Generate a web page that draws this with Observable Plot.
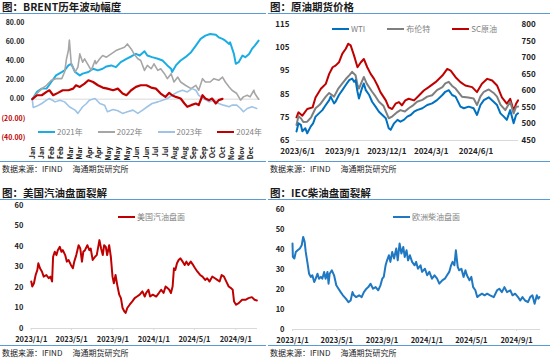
<!DOCTYPE html>
<html><head><meta charset="utf-8">
<script src="https://cdn.jsdelivr.net/npm/d3@7"></script>
<script src="https://cdn.jsdelivr.net/npm/@observablehq/plot@0.6"></script>
<style>
body{margin:0;background:#fff;font-family:"Noto Sans CJK SC","Noto Sans",sans-serif;}
#root{position:relative;width:550px;height:361px;overflow:hidden;background:#fff;}
.panel{position:absolute;}
.title{font-weight:bold;font-size:10.5px;color:#1a1a1a;height:13px;line-height:13px;padding-left:2px;border-bottom:1.2px solid #5B9BD5;white-space:nowrap;}
.src{font-size:8px;color:#1a1a1a;border-top:1.2px solid #5B9BD5;height:13px;line-height:14px;padding-left:2px;white-space:nowrap;}
.src span{margin-right:10px;}
.plot svg{display:block;}
.lg{position:absolute;font-size:8px;color:#7f7f7f;white-space:nowrap;line-height:10px;}
.lg i{display:inline-block;width:17px;height:2.5px;vertical-align:middle;margin-right:2px;position:relative;top:-1px;}
</style></head>
<body><div id="root"></div>
<script>
// ---------- Panel 1: BRENT yearly change (x = trading day index) ----------
const monthLabels = ["Jan","Jan","Feb","Feb","Mar","Mar","Apr","Apr","May","May","May","Jun","Jun","Jul","Jul","Aug","Aug","Sep","Sep","Oct","Oct","Nov","Nov","Dec"];
const yearNames = ["2021年","2022年","2023年","2024年"];
const brent2021 = [[0,0],[5,7.6],[10,11],[15,11],[20,17.9],[25,24.8],[31,28.3],[34,30],[38,35.2],[41,36.9],[45,28.3],[50,24.8],[53,26.6],[59,28.3],[64,31.7],[69,30],[74,31.7],[78,34.1],[83,35.2],[88,33.4],[93,38.6],[99,42.1],[104,44.5],[109,47.2],[113,45.5],[118,50],[121,45.5],[126,43.8],[132,42.1],[137,40.3],[142,35.2],[146,31.7],[147,28.3],[151,35.2],[156,40.3],[161,43.8],[167,49],[172,55.9],[177,62.8],[182,66.2],[187,67.9],[193,67.2],[196,64.5],[200,62.8],[203,61],[207,57.6],[208,59.3],[212,47.2],[214,36.9],[217,38.6],[221,45.5],[224,43.8],[228,47.2],[231,52.4],[234,55.9],[238,61]];
const brent2022 = [[0,0],[5,5.9],[10,11],[15,14.5],[20,19.7],[25,21.4],[31,21.4],[34,28.3],[36,42.1],[38,50.7],[39,61.7],[41,36.9],[45,28.3],[48,33.4],[50,47.2],[53,38.6],[55,42.1],[59,35.2],[62,30],[66,40.3],[67,36.9],[71,42.1],[74,45.5],[78,43.8],[83,47.2],[88,50.7],[92,52.4],[97,54.1],[100,57.6],[104,52.4],[107,47.2],[111,42.1],[114,40.3],[118,30],[121,35.2],[125,31.7],[128,36.9],[132,30],[135,31.7],[139,26.6],[142,21.4],[146,26.6],[149,17.9],[153,23.1],[156,17.9],[161,14.5],[167,11],[172,14.5],[175,9.3],[179,21.4],[182,17.9],[187,17.9],[191,21.4],[196,19.7],[200,23.1],[203,17.9],[207,12.8],[210,9.3],[215,5.9],[219,-1],[222,2.4],[226,4.1],[229,2.4],[233,9.3],[234,5.9],[238,0]];
const brent2023 = [[0,0],[1,-8.6],[5,-7.2],[10,-4.5],[15,-1],[18,0.7],[24,-2.8],[29,-1],[34,-2.8],[39,-7.9],[45,-11.4],[48,-14.8],[53,-7.9],[57,-4.5],[60,-1],[66,0.7],[71,-4.5],[76,-6.2],[79,-13.1],[85,-10.7],[90,-12.1],[95,-14.8],[100,-13.1],[106,-11.4],[111,-14.8],[116,-11.4],[121,-7.9],[126,-4.5],[132,-2.8],[137,-1],[142,0.7],[147,4.1],[153,7.6],[158,9.3],[163,7.6],[168,11],[172,9.3],[175,4.1],[180,0.7],[186,-2.8],[191,-1],[196,-4.5],[201,-6.2],[207,-7.9],[210,-6.2],[215,-6.2],[219,-9.7],[222,-13.1],[226,-9.7],[231,-7.9],[236,-9.7]];
const brent2024 = [[0,0],[5,4.1],[10,4.1],[15,7.6],[18,9.3],[22,4.1],[27,6.6],[32,9.3],[38,9.3],[43,11],[46,14.5],[50,12.8],[55,16.2],[59,19.7],[64,17.9],[69,14.5],[74,12.1],[79,11],[85,9.3],[90,11],[95,5.9],[99,4.1],[104,9.3],[109,12.8],[114,14.5],[120,14.5],[125,12.1],[130,11],[135,5.9],[140,2.4],[144,6.6],[147,4.1],[151,2.4],[156,0.7],[160,-4.5],[163,-7.9],[167,-6.2],[172,-4.5],[175,-6.2],[179,4.1],[182,0.7],[186,-1],[189,0.7],[193,-4.5],[196,-1],[200,0.3]];
const yearColors = ["#1AADE4","#A6A6A6","#9DC3E6","#C00000"];
const yearWidths = [2,1.6,1.6,2.2];

// ---------- Panel 2: crude futures (day offset from 2023-06-01) ----------
const crudeStart = "2023-06-01";
const crudeTickLabels = ["2023/6/1","2023/9/1","2023/12/1","2024/3/1","2024/6/1"];
const crudeNames = ["WTI","布伦特","SC原油"];
const wti = [[-2,68.9],[2,72.4],[7,71.7],[10,69],[16,70.3],[20,68.1],[27,71],[32,72.4],[37,75.3],[44,76.7],[51,78.1],[58,80.3],[65,82.4],[68,83.9],[75,81],[78,81.7],[85,84.6],[92,86.7],[99,88.9],[106,91],[112,91.7],[116,90.3],[119,91],[123,86],[126,83.1],[132,87.4],[136,89.6],[140,86.7],[147,84.6],[153,81.7],[160,79.6],[167,77.4],[174,76],[181,74.6],[187,70.3],[191,69.6],[198,72.4],[205,73.9],[211,73.1],[218,73.9],[225,75.3],[232,76],[239,77.4],[245,78.1],[256,78.9],[266,80.3],[276,81],[286,82.4],[297,84.6],[303,86],[310,86.7],[317,84.6],[324,83.9],[334,79.6],[341,78.9],[351,79.6],[361,78.9],[368,76],[375,80.3],[382,82.4],[392,83.6],[402,81.7],[409,80.3],[416,76.7],[423,75.3],[429,73.9],[436,78.1],[443,72.4],[448,76],[452,76.7]];
const brent = [[-2,71.7],[2,75.5],[7,74.6],[12,73],[20,73.1],[28,75],[37,78.9],[46,80.5],[58,83.9],[65,85.5],[75,83.9],[84,87.5],[92,89.6],[99,91.5],[106,93.1],[112,94.6],[119,93.1],[123,89],[126,87.4],[136,92.4],[142,89.5],[153,86],[160,84],[167,81.7],[176,80],[187,74.6],[194,75.3],[203,77],[211,78.1],[220,77.5],[228,78.9],[236,80],[245,81.7],[256,82.5],[266,83.9],[276,84.5],[286,86.7],[297,88],[303,89.6],[310,90.3],[317,88.5],[324,87.4],[337,83.9],[350,83.5],[361,83.1],[368,80.3],[375,84],[382,86],[392,87],[402,85.5],[409,83.9],[416,80.5],[426,78.1],[436,81.7],[443,76.7],[448,79.5],[452,79.6]];
const sc = [[-2,520],[2,535],[10,525],[20,545],[31,550],[37,580],[48,606],[58,621],[65,651],[72,671],[78,676],[85,686],[92,712],[99,727],[104,742],[109,737],[116,706],[123,671],[130,686],[136,696],[143,671],[150,651],[157,636],[164,616],[170,596],[181,571],[187,550],[194,545],[201,561],[208,566],[214,556],[221,571],[228,576],[239,571],[249,586],[259,601],[269,611],[283,626],[297,646],[307,666],[314,661],[324,641],[334,626],[344,616],[358,611],[368,596],[378,621],[389,636],[399,631],[409,616],[419,580],[429,561],[436,576],[443,540],[448,561],[452,571]];
const leftTicks = [65,75,85,95,105,115];
const rightTicks = [450,500,550,600,650,700,750,800];

// ---------- Panels 3 & 4: cracks (day offset from 2023-01-01) ----------
const crackStart = "2023-01-01";
const crackTickLabels = ["2023/1/1","2023/5/1","2023/9/1","2024/1/1","2024/5/1","2024/9/1"];
const gasoline = [[0,22.9],[3,20.5],[8,22.1],[13,26.1],[18,28.5],[21,31.8],[26,29.4],[32,27.7],[37,25.3],[45,26.1],[52,24.5],[57,25.3],[62,22.9],[65,35],[70,37.4],[75,35.8],[79,38.2],[85,39.8],[90,37.4],[94,38.2],[101,35.8],[106,32.6],[111,33.4],[118,31],[124,29.4],[128,32.6],[134,35.8],[141,40.6],[146,39],[151,32.6],[155,37.4],[160,38.2],[167,40.6],[173,38.2],[177,39],[183,33.4],[190,35],[195,35.8],[203,43.1],[208,39],[213,35.8],[217,40.6],[222,39.8],[226,35.8],[232,40.6],[237,35],[242,25.3],[246,22.1],[251,26.1],[256,21.3],[262,16.5],[267,14.8],[272,10],[277,8.4],[281,7.6],[286,10],[293,11.6],[301,13.2],[308,14.8],[315,15.6],[323,16.5],[331,18.1],[338,15.6],[342,17.3],[349,18.9],[354,15.6],[362,16.5],[372,15.6],[380,17.3],[387,18.9],[394,17.3],[400,20.5],[406,19.7],[411,18.9],[416,17.3],[421,20.5],[425,29.4],[429,28.5],[434,31.8],[439,33.4],[444,34.2],[451,32.6],[457,31],[462,32.6],[468,31],[475,32.6],[482,31],[488,29.4],[495,27.7],[503,26.1],[510,25.3],[518,23.7],[524,24.5],[531,22.9],[539,25.3],[547,24.5],[554,23.7],[561,22.9],[567,26.1],[574,25.3],[581,22.9],[588,20.5],[595,19.7],[600,18.9],[604,13.2],[610,11.6],[618,12.4],[628,14],[638,14],[647,14.8],[657,15.3],[665,14],[672,13.7]];
const diesel = [[0,43],[1,36.3],[5,35.5],[9,38.8],[14,39.6],[20,40.5],[25,42.1],[29,46.3],[33,43.8],[36,38.8],[41,32.9],[45,27.9],[50,26.3],[54,27.1],[59,23.7],[63,25.4],[68,27.9],[72,25.4],[77,26.3],[81,25.4],[86,28.8],[90,25.4],[95,28.8],[98,22.9],[101,27.9],[107,29.6],[113,27.1],[119,22.1],[125,20.4],[131,18.7],[137,17.1],[145,15.4],[152,13.7],[158,14.5],[163,18.7],[167,17.1],[173,16.2],[181,17.1],[188,16.2],[194,18.7],[201,20.4],[206,21.2],[212,22.9],[219,20.4],[226,21.2],[233,19.6],[239,22.1],[244,25.4],[248,26.3],[253,32.1],[257,34.6],[262,37.1],[266,33.8],[271,38.8],[276,35.5],[282,40.5],[286,34.6],[291,43],[296,38],[301,41.3],[305,36.3],[310,39.6],[314,34.6],[319,37.1],[325,33.8],[332,32.1],[336,33.8],[341,30.4],[348,32.1],[352,28.8],[360,30.4],[366,27.1],[372,28.8],[379,25.4],[386,27.1],[393,25.4],[399,22.9],[407,24.6],[414,25.4],[420,27.1],[426,28.8],[431,32.1],[435,33.8],[440,32.1],[444,39.6],[449,31.3],[453,29.6],[459,30.4],[465,26.3],[470,29.6],[474,27.1],[481,24.6],[486,26.3],[491,21.2],[497,19.6],[502,16.2],[508,17.1],[515,17.9],[522,17.1],[529,17.9],[537,17.1],[547,16.2],[556,19.6],[562,20.4],[569,18.7],[576,21.2],[583,18.7],[592,19.6],[598,17.1],[605,17.9],[613,16.2],[619,14.5],[625,16.2],[632,14.5],[640,13.7],[646,16.2],[652,17.1],[658,12.9],[664,17.1],[668,15.4],[671,16.2]];
const crackTicks = [0,10,20,30,40,50,60];

// ---------- helpers ----------
const FONT = '"Noto Sans CJK SC","Noto Sans",sans-serif';
const parseSlash = s => { const [y,m,d] = s.split("/").map(Number); return new Date(Date.UTC(y,m-1,d)); };
const fmtSlash = d => `${d.getUTCFullYear()}/${d.getUTCMonth()+1}/${d.getUTCDate()}`;
const dayOf = (start, off) => { const d = new Date(start + "T00:00:00Z"); d.setUTCDate(d.getUTCDate()+off); return d; };
const toRows = (arr, start) => arr.map(([o,v]) => ({date: dayOf(start,o), v}));
const root = document.getElementById("root");

function panel(left, top, width, title, chart, plotH) {
  const p = document.createElement("div");
  p.className = "panel"; p.style.left = left+"px"; p.style.top = top+"px"; p.style.width = width+"px";
  const t = document.createElement("div"); t.className = "title"; t.textContent = title; p.appendChild(t);
  const c = document.createElement("div"); c.className = "plot"; c.style.height = plotH+"px"; c.appendChild(chart); p.appendChild(c);
  const s = document.createElement("div"); s.className = "src"; s.innerHTML = "<span>数据来源：IFIND</span><span>海通期货研究所</span>"; p.appendChild(s);
  root.appendChild(p);
}
function legend(items, left, top, gap) {
  const l = document.createElement("div"); l.className = "lg"; l.style.left = left+"px"; l.style.top = top+"px";
  l.innerHTML = items.map(([name,color]) => `<span style="margin-right:${gap}px"><i style="background:${color}"></i>${name}</span>`).join("");
  root.appendChild(l);
}

// ---------- Panel 1 ----------
const fmtAcc = d => d < 0 ? `(${Math.abs(d).toFixed(2)})` : d.toFixed(2);
const p1 = Plot.plot({
  width: 268, height: 147, marginLeft: 32, marginRight: 6, marginTop: 8, marginBottom: 23,
  style: {fontFamily: FONT, fontSize: "7px", fontWeight: "bold", color: "#222", background: "#fff"},
  x: {domain: [0, 240], label: null},
  y: {domain: [-40, 80], label: null},
  marks: [
    Plot.ruleY([0], {stroke: "#D9D9D9", strokeWidth: 1}),
    ...[brent2021, brent2022, brent2023, brent2024].map((s, i) =>
      Plot.line(s, {x: d => d[0], y: d => d[1], stroke: yearColors[i], strokeWidth: yearWidths[i]})),
    Plot.axisY([80,60,40,20,0], {tickSize: 0, tickPadding: 8, tickFormat: fmtAcc, fill: "#222", label: null}),
    Plot.axisY([-20,-40], {tickSize: 0, tickPadding: 7, tickFormat: fmtAcc, fill: "#C00000", label: null}),
    Plot.axisX(d3.range(0, 240, 10), {tickSize: 0, tickPadding: 9, tickRotate: -90, tickFormat: t => monthLabels[t/10], label: null})
  ]
});
panel(0, 0, 266, "图：BRENT历年波动幅度", p1, 147);
legend(yearNames.map((n,i)=>[n, yearColors[i]]), 38, 127, 15);

// ---------- Panel 2 ----------
const scToLeft = v => 65 + (v - 450) / 7;
const p2 = Plot.plot({
  width: 282, height: 147, marginLeft: 28, marginRight: 32, marginTop: 10, marginBottom: 21,
  style: {fontFamily: FONT, fontSize: "8px", fontWeight: "bold", color: "#222", background: "#fff"},
  x: {type: "utc", domain: [dayOf(crudeStart,-2), dayOf(crudeStart,453)], label: null},
  y: {domain: [65, 115], label: null},
  marks: [
    Plot.ruleY([65], {stroke: "#D9D9D9"}),
    Plot.line(toRows(sc, crudeStart), {x: "date", y: d => scToLeft(d.v), stroke: "#C00000", strokeWidth: 2}),
    Plot.line(toRows(brent, crudeStart), {x: "date", y: "v", stroke: "#7F7F7F", strokeWidth: 2}),
    Plot.line(toRows(wti, crudeStart), {x: "date", y: "v", stroke: "#0070C0", strokeWidth: 2}),
    Plot.axisY(leftTicks, {tickSize: 0, tickPadding: 7, anchor: "left", label: null}),
    Plot.axisY(rightTicks.map(scToLeft), {tickSize: 0, tickPadding: 3, anchor: "right", label: null, tickFormat: d => String(Math.round(450 + (d - 65) * 7))}),
    Plot.axisX(crudeTickLabels.map(parseSlash), {tickSize: 0, tickPadding: 8, tickFormat: fmtSlash, label: null})
  ]
});
panel(268, 0, 282, "图：原油期货价格", p2, 147);
legend(crudeNames.map((n,i)=>[n, ["#0070C0","#7F7F7F","#C00000"][i]]), 332, 24, 22);

// ---------- Panel 3 ----------
const crackDomain = [dayOf(crackStart,0), dayOf(crackStart,674)];
const p3 = Plot.plot({
  width: 268, height: 145, marginLeft: 31, marginRight: 9, marginTop: 5, marginBottom: 16,
  style: {fontFamily: FONT, fontSize: "7.5px", fontWeight: "bold", color: "#222", background: "#fff"},
  x: {type: "utc", domain: crackDomain, label: null},
  y: {domain: [0, 60], label: null},
  marks: [
    Plot.ruleY([0], {stroke: "#D9D9D9"}),
    Plot.line(toRows(gasoline, crackStart), {x: "date", y: "v", stroke: "#C00000", strokeWidth: 2}),
    Plot.axisY(crackTicks, {tickSize: 0, tickPadding: 8, label: null}),
    Plot.axisX(crackTickLabels.map(parseSlash), {tickSize: 2, stroke: "#D9D9D9", tickPadding: 6, tickFormat: fmtSlash, label: null})
  ]
});
panel(0, 186, 266, "图：美国汽油盘面裂解", p3, 145);
legend([["美国汽油盘面", "#C00000"]], 118, 212, 0);

// ---------- Panel 4 ----------
const p4 = Plot.plot({
  width: 282, height: 145, marginLeft: 24, marginRight: 10, marginTop: 9, marginBottom: 16,
  style: {fontFamily: FONT, fontSize: "7.5px", fontWeight: "bold", color: "#222", background: "#fff"},
  x: {type: "utc", domain: crackDomain, label: null},
  y: {domain: [0, 60], label: null},
  marks: [
    Plot.ruleY([0], {stroke: "#D9D9D9"}),
    Plot.line(toRows(diesel, crackStart), {x: "date", y: "v", stroke: "#1F78C1", strokeWidth: 2}),
    Plot.axisY(crackTicks, {tickSize: 0, tickPadding: 8, label: null}),
    Plot.axisX(crackTickLabels.map(parseSlash), {tickSize: 2, stroke: "#D9D9D9", tickPadding: 6, tickFormat: fmtSlash, label: null})
  ]
});
panel(268, 186, 282, "图：IEC柴油盘面裂解", p4, 145);
legend([["欧洲柴油盘面", "#1F78C1"]], 393, 212, 0);
</script>
</body></html>
